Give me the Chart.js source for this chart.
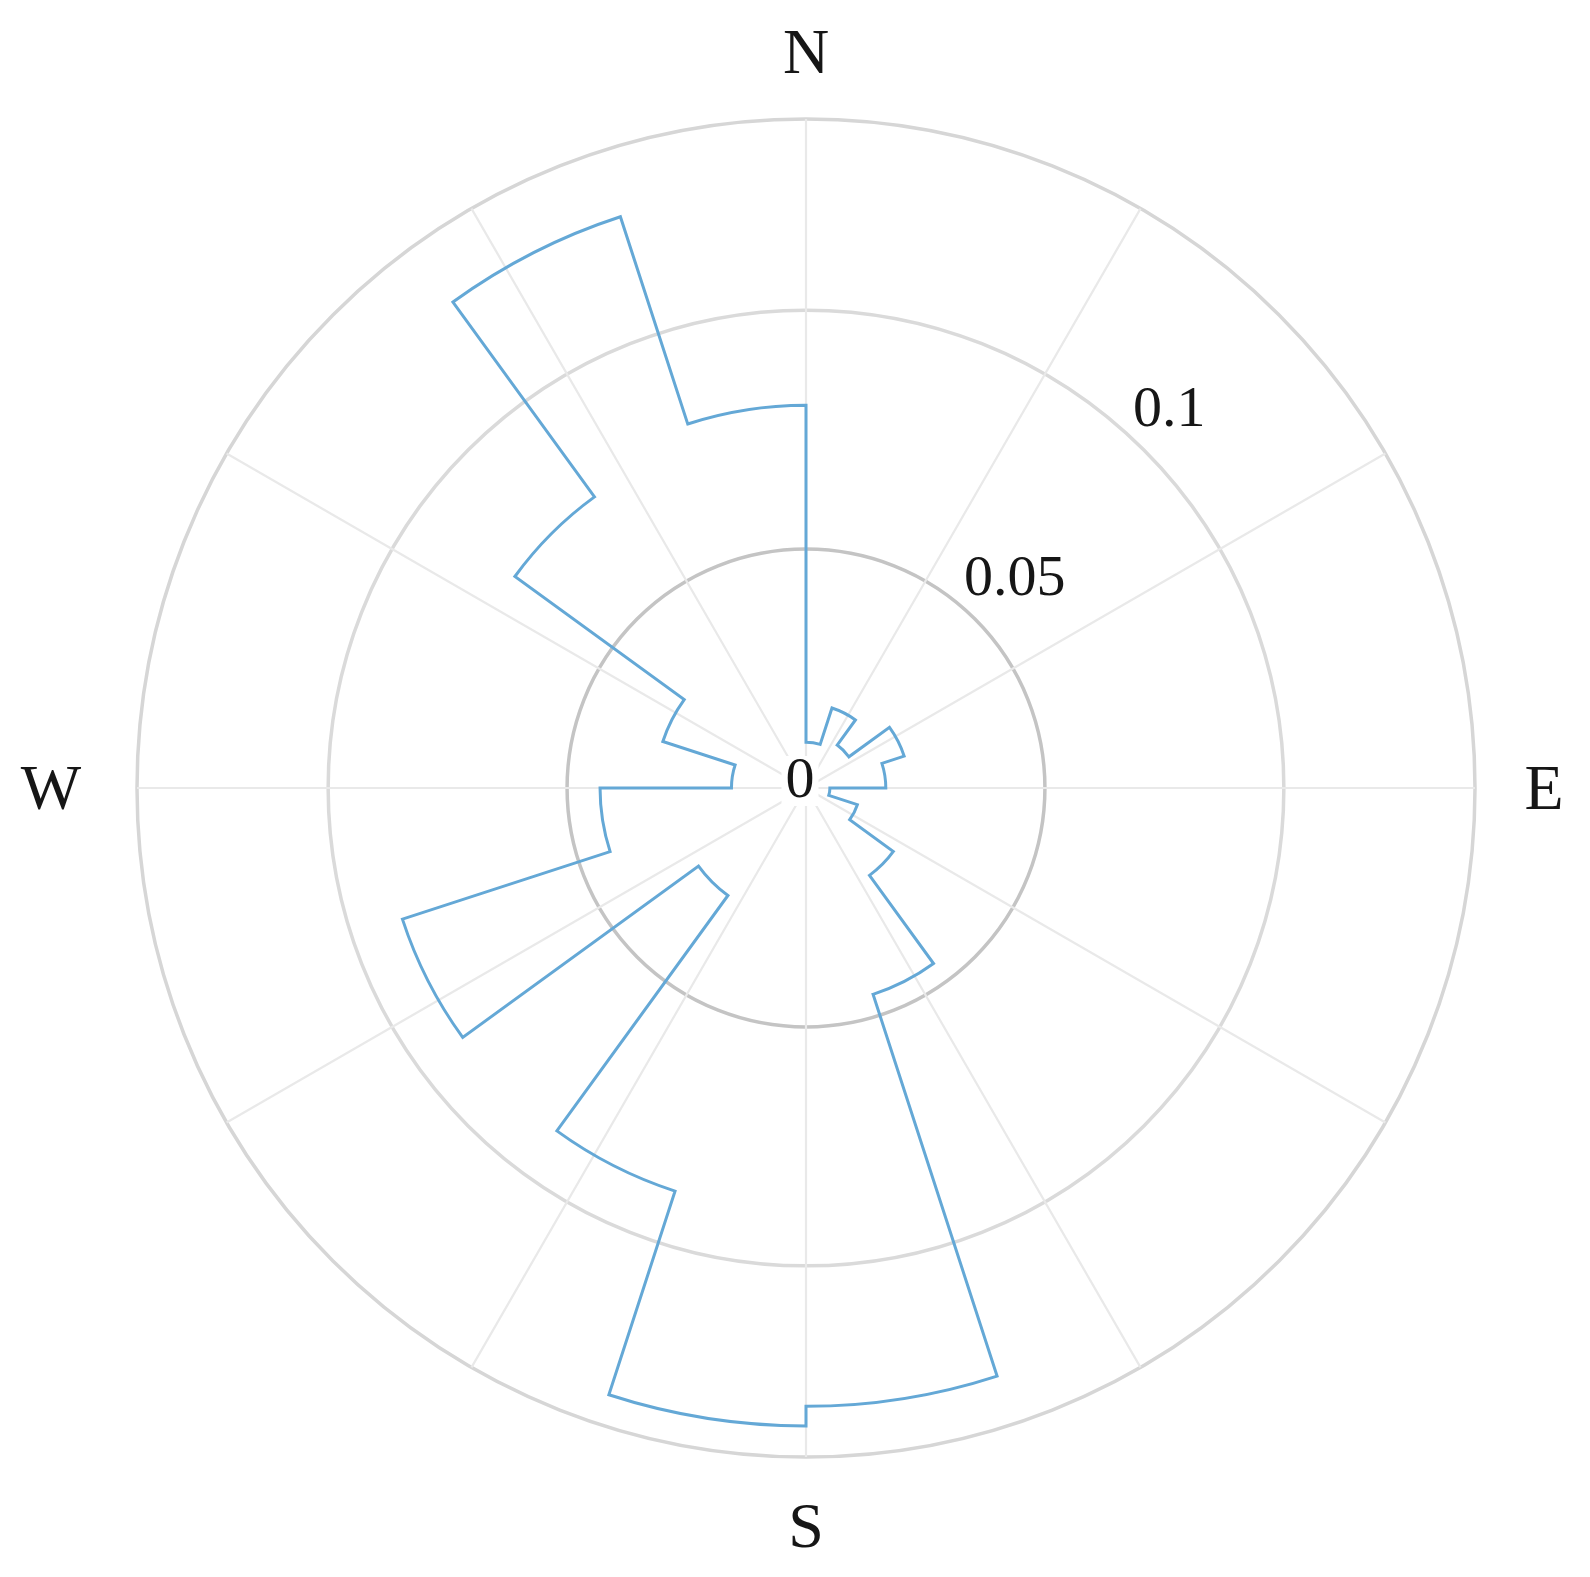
<!DOCTYPE html>
<html>
<head>
<meta charset="utf-8">
<script src="https://cdn.jsdelivr.net/npm/chart.js@4/dist/chart.umd.min.js"></script>
<style>
  html, body { margin: 0; padding: 0; background: #ffffff; }
  #wrap { width: 1590px; height: 1577px; position: relative; }
</style>
</head>
<body>
<div id="wrap"><canvas id="c"></canvas></div>
<script>
// ---- data (20 direction bins of 18°, clockwise from North) ----
const binLabels = ['0-18°','18-36°','36-54°','54-72°','72-90°','90-108°','108-126°','126-144°','144-162°','162-180°',
                   '180-198°','198-216°','216-234°','234-252°','252-270°','270-288°','288-306°','306-324°','324-342°','342-360°'];
const binValues = [0.0096, 0.0176, 0.0111, 0.0216, 0.0167, 0.0050, 0.0113, 0.0226, 0.0454, 0.1294,
                   0.1335, 0.0887, 0.0278, 0.0888, 0.0431, 0.0156, 0.0315, 0.0753, 0.1257, 0.0801];
const tickValues = [0, 0.05, 0.1, 0.14];
const tickLabels = ['0', '0.05', '0.1'];
const compassLabels = ['N', 'E', 'S', 'W'];
const compassAngles = [0, 90, 180, 270];

// ---- styling ----
const LINE_COLOR = 'rgb(100,168,214)';
const SPOKE_COLOR = '#e9e9e9';
const TEXT_COLOR = '#161616';
const SERIF = '"Liberation Serif", "DejaVu Serif", serif';
const ringColors = ['#cccccc', '#c4c4c4', '#dadada', '#d6d6d6'];
const compassPad = [67, 69, 69, 86];
const SPOKE_STEP = 30;

const rosePlugin = {
  id: 'rosePlugin',
  beforeDatasetsDraw(chart) {
    const s = chart.scales.r, ctx = chart.ctx;
    ctx.save();
    ctx.strokeStyle = SPOKE_COLOR;
    ctx.lineWidth = 2.2;
    for (let a = 0; a < 360; a += SPOKE_STEP) {
      const rad = (a - 90) * Math.PI / 180;
      ctx.beginPath();
      ctx.moveTo(s.xCenter, s.yCenter);
      ctx.lineTo(s.xCenter + s.drawingArea * Math.cos(rad), s.yCenter + s.drawingArea * Math.sin(rad));
      ctx.stroke();
    }
    ctx.restore();
  },
  afterDatasetsDraw(chart) {
    const s = chart.scales.r, ctx = chart.ctx;
    const meta = chart.getDatasetMeta(0);
    // outline of the rose (envelope of all bins)
    ctx.save();
    ctx.strokeStyle = LINE_COLOR;
    ctx.lineWidth = 3;
    ctx.lineJoin = 'miter';
    ctx.beginPath();
    meta.data.forEach((arc) => {
      const p = arc.getProps(['x', 'y', 'startAngle', 'endAngle', 'outerRadius'], true);
      ctx.arc(p.x, p.y, p.outerRadius, p.startAngle, p.endAngle);
    });
    ctx.closePath();
    ctx.stroke();
    ctx.restore();

    // radial tick labels
    ctx.save();
    ctx.fillStyle = TEXT_COLOR;
    ctx.font = '58px ' + SERIF;
    tickLabels.forEach((lab, i) => {
      const v = tickValues[i];
      if (v === 0) {
        const tx = s.xCenter - 6, ty = s.yCenter - 6;
        const w = ctx.measureText(lab).width;
        ctx.fillStyle = '#ffffff';
        ctx.fillRect(tx - w / 2 - 4, ty - 26, w + 8, 50);
        ctx.fillStyle = TEXT_COLOR;
        ctx.textAlign = 'center';
        ctx.textBaseline = 'middle';
        ctx.fillText(lab, tx, ty);
        return;
      }
      const r = s.getDistanceFromCenterForValue(v);
      const rad = (45 - 90) * Math.PI / 180;
      const ax = s.xCenter + r * Math.cos(rad);
      const ay = s.yCenter + r * Math.sin(rad);
      ctx.textAlign = 'left';
      ctx.textBaseline = 'alphabetic';
      ctx.fillText(lab, ax - 11, ay - 24);
    });
    // compass labels
    ctx.font = '64px ' + SERIF;
    ctx.textAlign = 'center';
    ctx.textBaseline = 'alphabetic';
    compassLabels.forEach((lab, i) => {
      const rad = (compassAngles[i] - 90) * Math.PI / 180;
      const r = s.drawingArea + compassPad[i];
      const x = s.xCenter + r * Math.cos(rad);
      const y = s.yCenter + r * Math.sin(rad);
      ctx.fillText(lab, x, y + 0.33 * 64);
    });
    ctx.restore();
  }
};

new Chart(document.getElementById('c'), {
  type: 'polarArea',
  data: {
    labels: binLabels,
    datasets: [{
      data: binValues,
      backgroundColor: 'rgba(0,0,0,0)',
      borderWidth: 0
    }]
  },
  options: {
    responsive: true,
    maintainAspectRatio: false,
    animation: false,
    layout: { padding: { left: 137, right: 115, top: 119, bottom: 120 } },
    plugins: { legend: { display: false }, tooltip: { enabled: false } },
    scales: {
      r: {
        min: 0,
        max: 0.14,
        startAngle: 0,
        afterBuildTicks: (scale) => { scale.ticks = tickValues.map(v => ({ value: v })); },
        ticks: { display: false },
        angleLines: { display: false },
        pointLabels: { display: false },
        grid: {
          circular: true,
          color: (ctx) => ringColors[ctx.index] || '#d6d6d6',
          lineWidth: 3.5
        }
      }
    }
  },
  plugins: [rosePlugin]
});
</script>
</body>
</html>
